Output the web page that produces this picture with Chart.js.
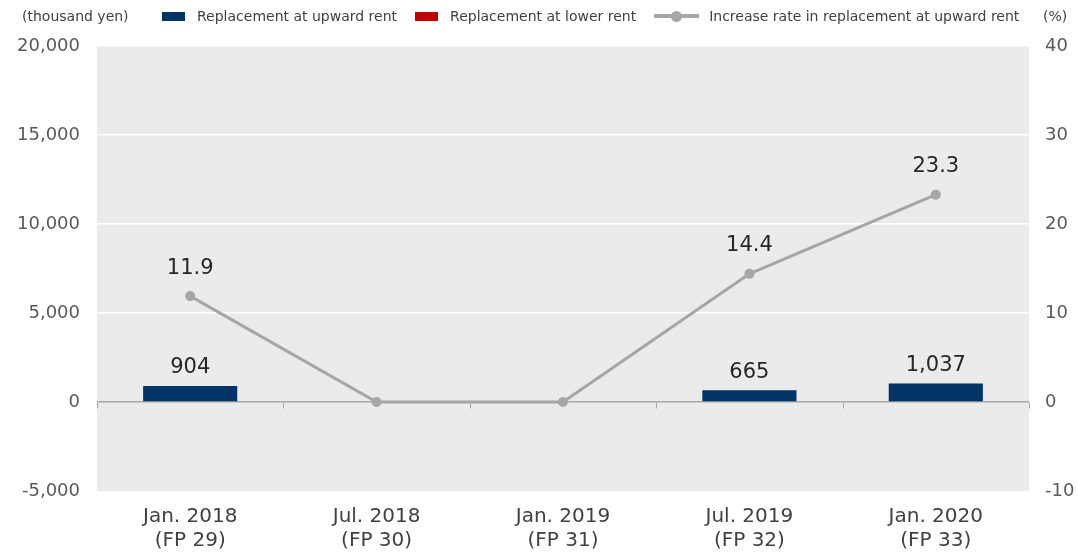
<!DOCTYPE html>
<html>
<head>
<meta charset="utf-8">
<script src="https://cdn.jsdelivr.net/npm/chart.js@4.4.1/dist/chart.umd.min.js"></script>
<style>
  html, body { margin: 0; padding: 0; background: #fff; }
  #wrap { position: relative; width: 1078px; height: 553px; font-family: "DejaVu Sans", Verdana, sans-serif; }
  #c { position: absolute; left: 0; top: 0; }
  .unit { position: absolute; top: 8px; font-size: 14px; color: #404040; }
  #legend { position: absolute; top: 8px; left: 162px; display: flex; align-items: center; font-size: 14px; color: #404040; white-space: nowrap; }
  .box { display: inline-block; width: 23px; height: 9px; margin-right: 12px; }
  .item { display: flex; align-items: center; margin-right: 18px; }
  .lineKey { position: relative; width: 45px; height: 10px; margin-right: 10px; }
  .lineKey span.l { position: absolute; left: 0; top: 3px; width: 45px; height: 4px; background: #a6a6a6; }
  .lineKey span.d { position: absolute; left: 17px; top: 0; width: 11px; height: 11px; border-radius: 50%; background: #a6a6a6; }
</style>
</head>
<body>
<div id="wrap">
  <canvas id="c" width="1078" height="553"></canvas>
  <div class="unit" style="left:22px">(thousand yen)</div>
  <div class="unit" style="left:1043px">(%)</div>
  <div id="legend">
    <div class="item"><span class="box" style="background:#003366"></span>Replacement at upward rent</div>
    <div class="item"><span class="box" style="background:#c00000"></span>Replacement at lower rent</div>
    <div class="item"><span class="lineKey"><span class="l"></span><span class="d"></span></span>Increase rate in replacement at upward rent</div>
  </div>
</div>
<script>
// ---------------------------------------------------------------------------
// Data
// ---------------------------------------------------------------------------
const periods = [
  ['Jan. 2018', '(FP 29)'],
  ['Jul. 2018', '(FP 30)'],
  ['Jan. 2019', '(FP 31)'],
  ['Jul. 2019', '(FP 32)'],
  ['Jan. 2020', '(FP 33)'],
];
const upwardRent = [904, 0, 0, 665, 1037];     // thousand yen
const lowerRent = [0, 0, 0, 0, 0];              // thousand yen
const increaseRate = [11.9, 0, 0, 14.4, 23.3];  // %

const leftTicks = [-5000, 0, 5000, 10000, 15000, 20000];
const rightTicks = [-10, 0, 10, 20, 30, 40];

const FONT = '"DejaVu Sans", Verdana, sans-serif';

// ---------------------------------------------------------------------------
// Plugins: plot background, category ticks on zero line, value labels
// ---------------------------------------------------------------------------
const plotBg = {
  id: 'plotBg',
  beforeDraw(chart) {
    const { ctx, chartArea: a } = chart;
    ctx.save();
    ctx.fillStyle = '#ebebeb';
    ctx.fillRect(a.left, a.top, a.right - a.left, a.bottom - a.top);
    ctx.restore();
  },
};

const zeroTicks = {
  id: 'zeroTicks',
  afterDatasetsDraw(chart) {
    const { ctx, scales: { x, y } } = chart;
    const y0 = Math.round(y.getPixelForValue(0)) + 0.5;
    const half = (x.getPixelForValue(1) - x.getPixelForValue(0)) / 2;
    ctx.save();
    ctx.strokeStyle = '#a6a6a6';
    ctx.lineWidth = 1;
    ctx.beginPath();
    for (let i = 0; i <= periods.length; i++) {
      const px = Math.round(x.getPixelForValue(i) - half) + 0.5;
      ctx.moveTo(px, y0);
      ctx.lineTo(px, y0 + 6);
    }
    ctx.stroke();
    ctx.restore();
  },
};

const valueLabels = {
  id: 'valueLabels',
  afterDatasetsDraw(chart) {
    const { ctx } = chart;
    ctx.save();
    ctx.font = '21px ' + FONT;
    ctx.fillStyle = '#262626';
    ctx.textAlign = 'center';
    ctx.textBaseline = 'middle';
    chart.getDatasetMeta(0).data.forEach((bar, i) => {
      if (!upwardRent[i]) return;
      ctx.fillText(upwardRent[i].toLocaleString('en-US'), bar.x, bar.y - 18);
    });
    chart.getDatasetMeta(2).data.forEach((pt, i) => {
      if (!increaseRate[i]) return;
      ctx.fillText(increaseRate[i].toFixed(1), pt.x, pt.y - 28);
    });
    ctx.restore();
  },
};

// ---------------------------------------------------------------------------
// Chart
// ---------------------------------------------------------------------------
new Chart(document.getElementById('c'), {
  type: 'bar',
  data: {
    labels: periods,
    datasets: [
      {
        label: 'Replacement at upward rent',
        data: upwardRent,
        backgroundColor: '#003366',
        yAxisID: 'y',
        stack: 's',
        order: 2,
        categoryPercentage: 1,
        barPercentage: 0.505,
      },
      {
        label: 'Replacement at lower rent',
        data: lowerRent,
        backgroundColor: '#c00000',
        yAxisID: 'y',
        stack: 's',
        order: 3,
        categoryPercentage: 1,
        barPercentage: 0.505,
      },
      {
        type: 'line',
        label: 'Increase rate in replacement at upward rent',
        data: increaseRate,
        yAxisID: 'y1',
        borderColor: '#a6a6a6',
        backgroundColor: '#a6a6a6',
        borderWidth: 3,
        pointRadius: 5,
        pointBackgroundColor: '#a6a6a6',
        pointBorderWidth: 0,
        tension: 0,
        order: 1,
      },
    ],
  },
  options: {
    responsive: false,
    animation: false,
    layout: { padding: { top: 46, left: 0, right: 0, bottom: 0 } },
    plugins: { legend: { display: false }, tooltip: { enabled: false } },
    scales: {
      x: {
        stacked: true,
        offset: true,
        grid: { display: false, drawTicks: false },
        border: { display: false },
        ticks: { color: '#404040', font: { family: FONT, size: 20, lineHeight: 1.2 }, padding: 14, maxRotation: 0 },
        afterFit(s) { s.height = 62; },
      },
      y: {
        position: 'left',
        stacked: true,
        min: -5000,
        max: 20000,
        afterBuildTicks(s) { s.ticks = leftTicks.map(v => ({ value: v })); },
        grid: {
          drawTicks: false,
          lineWidth: 1.5,
          color: c => c.tick.value === 0 ? '#a6a6a6' : (c.tick.value === -5000 ? 'rgba(0,0,0,0)' : '#ffffff'),
        },
        border: { display: false },
        ticks: {
          color: '#595959',
          font: { family: FONT, size: 18 },
          padding: 17,
          callback: v => v.toLocaleString('en-US'),
        },
        afterFit(s) { s.width = 97; },
      },
      y1: {
        position: 'right',
        min: -10,
        max: 40,
        afterBuildTicks(s) { s.ticks = rightTicks.map(v => ({ value: v })); },
        grid: { display: false, drawTicks: false },
        border: { display: false },
        ticks: { color: '#595959', font: { family: FONT, size: 18 }, padding: 16 },
        afterFit(s) { s.width = 49; },
      },
    },
  },
  plugins: [plotBg, zeroTicks, valueLabels],
});
</script>
</body>
</html>
